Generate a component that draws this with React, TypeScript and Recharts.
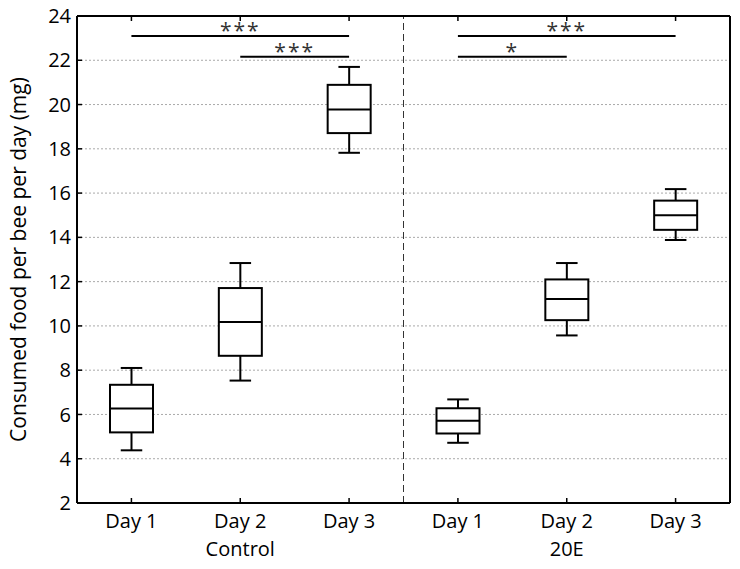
import React from 'react'
import { ComposedChart, Bar, XAxis, YAxis, CartesianGrid, ReferenceLine, Label } from 'recharts'

// one entry per box, Control then 20E
const categories = ['C1', 'C2', 'C3', 'E1', 'E2', 'E3']
const dayLabels = ['Day 1', 'Day 2', 'Day 3', 'Day 1', 'Day 2', 'Day 3']
const groupLabels = ['', 'Control', '', '', '20E', '']

const whiskerLow = [4.38, 7.53, 17.82, 4.72, 9.57, 13.88]
const q1 = [5.19, 8.65, 18.71, 5.14, 10.26, 14.34]
const median = [6.27, 10.18, 19.78, 5.72, 11.21, 15.0]
const q3 = [7.34, 11.71, 20.89, 6.28, 12.1, 15.66]
const whiskerHigh = [8.1, 12.84, 21.7, 6.68, 12.84, 16.18]

const yTicks = [2, 4, 6, 8, 10, 12, 14, 16, 18, 20, 22, 24]

const comparisons = [
  { from: 'C1', to: 'C3', y: 23.1, label: '***' },
  { from: 'C2', to: 'C3', y: 22.16, label: '***' },
  { from: 'E1', to: 'E3', y: 23.1, label: '***' },
  { from: 'E1', to: 'E2', y: 22.16, label: '*' },
]

const data = categories.map((key, i) => ({
  key,
  min: whiskerLow[i],
  q1: q1[i],
  median: median[i],
  q3: q3[i],
  max: whiskerHigh[i],
}))

const dayByKey: Record<string, string> = {}
const groupByKey: Record<string, string> = {}
categories.forEach((k, i) => {
  dayByKey[k] = dayLabels[i]
  groupByKey[k] = groupLabels[i]
})

function BoxShape(props: any) {
  const { x, y, width, height, payload } = props
  const top = Math.min(y, y + height)
  const h = Math.abs(height)
  const span = payload.max - payload.min
  const toY = (v: number) => top + (h * (payload.max - v)) / span
  const cx = x + width / 2
  const capW = width / 2
  const yQ3 = toY(payload.q3)
  const yQ1 = toY(payload.q1)
  const yMed = toY(payload.median)
  const yMax = toY(payload.max)
  const yMin = toY(payload.min)
  return (
    <g stroke="#000" strokeWidth={2} fill="none">
      <line x1={cx} x2={cx} y1={yMax} y2={yQ3} />
      <line x1={cx} x2={cx} y1={yQ1} y2={yMin} />
      <line x1={cx - capW / 2} x2={cx + capW / 2} y1={yMax} y2={yMax} />
      <line x1={cx - capW / 2} x2={cx + capW / 2} y1={yMin} y2={yMin} />
      <rect x={x} y={yQ3} width={width} height={yQ1 - yQ3} fill="#fff" />
      <line x1={x} x2={x + width} y1={yMed} y2={yMed} />
    </g>
  )
}

export default function App() {
  const tickStyle = { fontSize: 20, fill: '#000' }
  return (
    <div style={{ position: 'absolute', left: 0, top: 0, fontFamily: 'Open Sans', background: '#fff' }}>
      <ComposedChart
        width={740}
        height={569}
        data={data}
        margin={{ top: 15, right: 9, bottom: 0, left: 0 }}
      >
        <CartesianGrid vertical={false} stroke="#aaa" strokeDasharray="2 2" />
        <XAxis
          dataKey="key"
          height={30}
          interval={0}
          tickFormatter={(k: string) => dayByKey[k]}
          tick={tickStyle}
          tickSize={-5}
          tickMargin={16}
          axisLine={{ stroke: '#000', strokeWidth: 2 }}
          tickLine={{ stroke: '#000', strokeWidth: 1.5 }}
        />
        <XAxis
          xAxisId="group"
          dataKey="key"
          height={36}
          interval={0}
          tickFormatter={(k: string) => groupByKey[k]}
          tick={tickStyle}
          axisLine={false}
          tickLine={false}
          tickSize={0}
          tickMargin={9}
        />
        <XAxis
          xAxisId="top"
          orientation="top"
          dataKey="key"
          height={1}
          interval={0}
          tickFormatter={() => ''}
          tickSize={-5}
          axisLine={{ stroke: '#000', strokeWidth: 2 }}
          tickLine={{ stroke: '#000', strokeWidth: 1.5 }}
        />
        <YAxis
          domain={[2, 24]}
          ticks={yTicks}
          width={77}
          interval={0}
          tick={tickStyle}
          tickSize={-5}
          tickMargin={11}
          axisLine={{ stroke: '#000', strokeWidth: 2 }}
          tickLine={{ stroke: '#000', strokeWidth: 1.5 }}
        >
          <Label
            value="Consumed food per bee per day (mg)"
            angle={-90}
            position="insideLeft"
            offset={19}
            style={{ textAnchor: 'middle', fontSize: 21, fill: '#000' }}
          />
        </YAxis>
        <YAxis
          yAxisId="right"
          orientation="right"
          domain={[2, 24]}
          ticks={yTicks}
          width={1}
          interval={0}
          tickFormatter={() => ''}
          tickSize={-5}
          axisLine={{ stroke: '#000', strokeWidth: 2 }}
          tickLine={{ stroke: '#000', strokeWidth: 1.5 }}
        />
        <ReferenceLine
          x="C3"
          position="end"
          stroke="#333"
          strokeWidth={1}
          strokeDasharray="7 4"
        />
        <Bar
          dataKey={(d: any) => [d.min, d.max]}
          barSize={43}
          shape={<BoxShape />}
          isAnimationActive={false}
        />
        {comparisons.map((c, i) => (
          <ReferenceLine
            key={i}
            segment={[
              { x: c.from, y: c.y },
              { x: c.to, y: c.y },
            ]}
            stroke="#000"
            strokeWidth={2}
          >
            <Label
              value={c.label}
              position="top"
              offset={-2}
              style={{ fontSize: 21, fill: '#333', letterSpacing: 2 }}
            />
          </ReferenceLine>
        ))}
      </ComposedChart>
    </div>
  )
}
